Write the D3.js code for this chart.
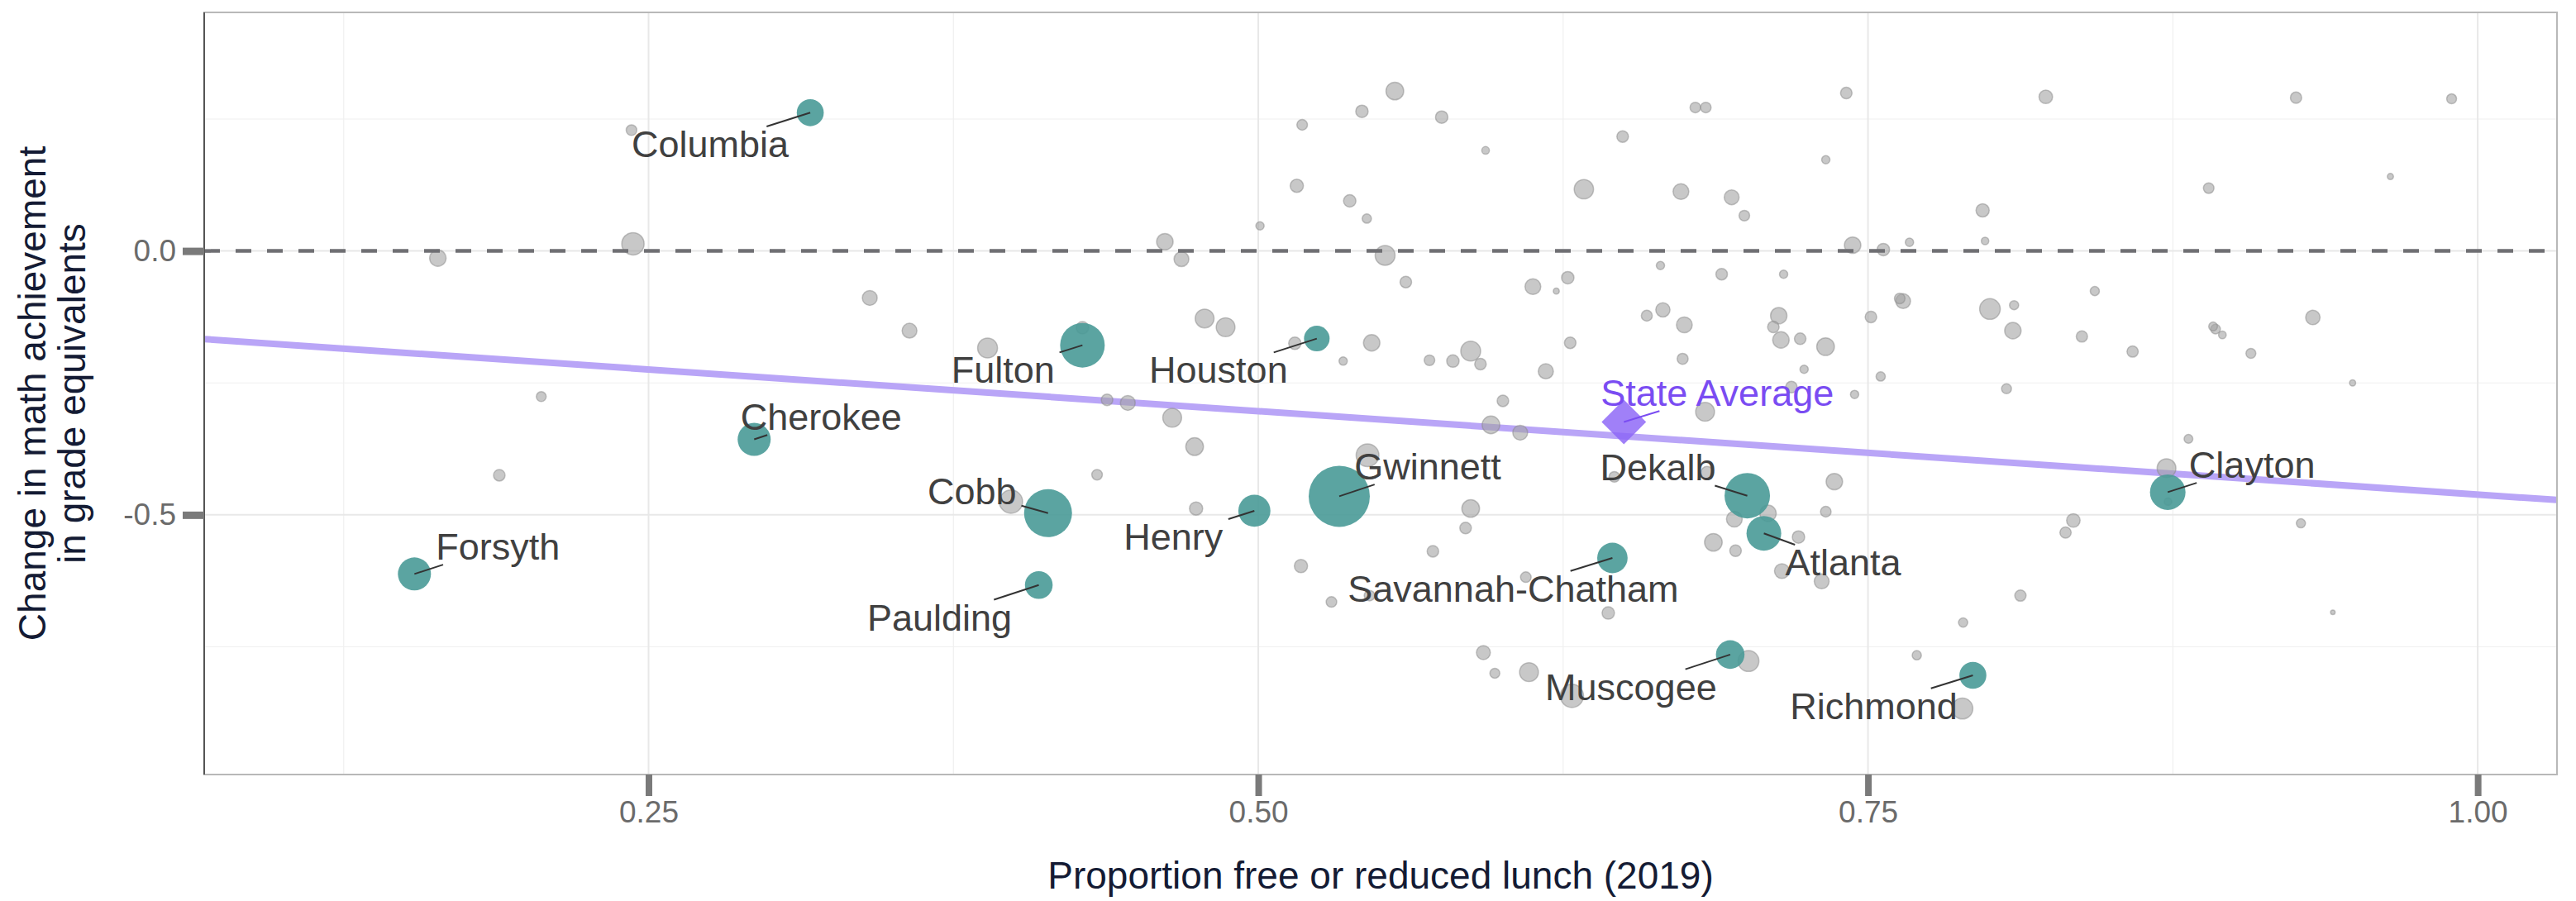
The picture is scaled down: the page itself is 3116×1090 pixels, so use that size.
<!DOCTYPE html>
<html lang="en">
<head>
<meta charset="utf-8">
<title>Change in math achievement vs free or reduced lunch</title>
<script src="https://d3js.org/d3.v7.min.js"></script>
<style>
  body { margin: 0; background: #fff; }
  text { font-family: "Liberation Sans", Arial, Helvetica, sans-serif; }
</style>
</head>
<body>
<div id="vis"></div>
<script>
// highlighted districts
const districtNames = ["Columbia", "Forsyth", "Fulton", "Houston", "Cherokee", "Cobb", "Henry", "Paulding",
  "Gwinnett", "Savannah-Chatham", "Dekalb", "Atlanta", "Muscogee", "Richmond", "Clayton"];
const districtLunch = [0.3163, 0.154, 0.4279, 0.524, 0.2933, 0.4138, 0.4984, 0.410,
  0.5332, 0.6452, 0.7005, 0.7073, 0.6935, 0.793, 0.8729];
const districtChange = [0.262, -0.612, -0.1786, -0.166, -0.357, -0.4967, -0.4923, -0.633,
  -0.4648, -0.5817, -0.4637, -0.535, -0.7647, -0.804, -0.457];
// enrollment, thousands of students
const districtEnroll = [35, 52.6, 95.8, 31.6, 52.6, 110.6, 49.5, 37, 180, 44.5, 99.4, 58, 39.4, 35, 60.8];

// every other district: [free/reduced lunch share, change, enrollment (thousands)]
const otherDistricts = [
  [0.243, 0.229, 5.4], [0.2436, 0.0136, 24], [0.1636, -0.0136, 13], [0.206, -0.276, 4.7], [0.1888, -0.425, 6.4],
  [0.518, 0.239, 5.4], [0.5158, 0.1235, 8.4], [0.5007, 0.0476, 3.3], [0.4617, 0.0175, 13], [0.4685, -0.0155, 10.6],
  [0.3407, -0.089, 10.6], [0.357, -0.151, 10.6], [0.389, -0.184, 19], [0.4279, -0.1456, 7.4], [0.478, -0.128, 17],
  [0.4866, -0.1445, 17], [0.515, -0.175, 7.4], [0.438, -0.282, 6.4], [0.4465, -0.288, 10.6], [0.4647, -0.316, 17],
  [0.4739, -0.3707, 15], [0.4339, -0.424, 5.4], [0.3986, -0.475, 26], [0.4745, -0.488, 8.4], [0.5175, -0.597, 8.4],
  [0.5448, -0.387, 25], [0.5871, -0.488, 15], [0.585, -0.525, 6.4], [0.5716, -0.569, 6.4], [0.6097, -0.618, 5.4],
  [0.530, -0.665, 5.4], [0.5456, -0.653, 5.4], [0.6435, -0.686, 7.4], [0.646, -0.428, 5.4], [0.684, -0.42, 7.4],
  [0.709, -0.497, 13], [0.6952, -0.508, 12], [0.6866, -0.552, 15], [0.6957, -0.568, 6.4], [0.7215, -0.542, 7.4],
  [0.7327, -0.494, 5.4], [0.7362, -0.437, 13], [0.7147, -0.6065, 10.6], [0.731, -0.626, 10.6], [0.5923, -0.761, 9.3],
  [0.597, -0.800, 4.7], [0.611, -0.798, 17], [0.6286, -0.843, 26], [0.701, -0.777, 21], [0.770, -0.766, 4.1],
  [0.789, -0.704, 4.1], [0.7887, -0.867, 21], [0.8724, -0.4116, 17], [0.873, -0.475, 2.7], [0.8342, -0.5106, 8.8],
  [0.831, -0.5335, 6.1], [0.8125, -0.653, 6.1], [0.9275, -0.516, 4], [0.9406, -0.6846, 1.0], [0.556, 0.303, 15],
  [0.5425, 0.2646, 7.4], [0.5752, 0.2536, 7.4], [0.6494, 0.2168, 6.4], [0.5932, 0.1905, 2.8], [0.6792, 0.2718, 5.4],
  [0.6835, 0.2718, 5.4], [0.7411, 0.2992, 6.4], [0.7327, 0.1728, 3.3], [0.6335, 0.117, 18], [0.6733, 0.1126, 12],
  [0.6941, 0.1016, 10.6], [0.6993, 0.067, 5.4], [0.5375, 0.0949, 7.4], [0.5445, 0.0614, 4.1], [0.552, -0.0083, 19],
  [0.7437, 0.011, 13], [0.7563, 0.0027, 7.4], [0.767, 0.0164, 3.3], [0.797, 0.0769, 8.4], [0.798, 0.019, 2.7],
  [0.5605, -0.0589, 6.4], [0.6649, -0.0276, 3.3], [0.69, -0.044, 6.4], [0.7154, -0.044, 3.3], [0.6126, -0.0676, 12],
  [0.6269, -0.0506, 7.4], [0.6222, -0.076, 1.7], [0.7644, -0.095, 10.6], [0.763, -0.09, 5.4], [0.7512, -0.125, 6.4],
  [0.800, -0.110, 20.5], [0.6593, -0.1226, 5.8], [0.6659, -0.1115, 9.8], [0.6747, -0.140, 12], [0.7134, -0.1226, 13],
  [0.7112, -0.144, 6.4], [0.7143, -0.1686, 13], [0.7222, -0.1664, 6.4], [0.7326, -0.1813, 15], [0.5465, -0.174, 13],
  [0.5348, -0.2087, 3.3], [0.5702, -0.2071, 5.4], [0.5798, -0.2087, 7.4], [0.5871, -0.1896, 19], [0.5911, -0.2143, 6.4],
  [0.6279, -0.174, 6.4], [0.674, -0.2043, 5.8], [0.6179, -0.228, 11], [0.7238, -0.2242, 3.3], [0.7552, -0.2378, 4.1],
  [0.7445, -0.2718, 3.3], [0.7186, -0.258, 6.4], [0.6832, -0.3047, 17], [0.6003, -0.284, 6.4], [0.5954, -0.3295, 15],
  [0.6074, -0.3443, 10.6], [0.8229, 0.292, 8.8], [0.9255, 0.2904, 6.1], [0.9893, 0.2882, 4.7], [0.8897, 0.119, 5.4],
  [0.9642, 0.141, 1.8], [0.843, -0.076, 4], [0.8099, -0.1027, 4], [0.8094, -0.151, 13], [0.8377, -0.162, 6.1],
  [0.8585, -0.1906, 6.1], [0.8925, -0.148, 4.5], [0.8915, -0.143, 3.7], [0.8953, -0.159, 2.8], [0.907, -0.194, 4.7],
  [0.9324, -0.126, 10], [0.9487, -0.25, 1.8], [0.8068, -0.261, 4.7], [0.8814, -0.356, 3.7]
];

const stateAverage = { name: "State Average", lunch: 0.6499, change: -0.324 };
const fitLine = { intercept: -0.1455, slope: -0.316 };

const xTicks = [0.25, 0.50, 0.75, 1.00];
const yTicks = [0.0, -0.5];
const xMinor = [0.125, 0.375, 0.625, 0.875];
const yMinor = [0.25, -0.25, -0.75];

const width = 3116, height = 1090;
const margin = { top: 15, right: 23, bottom: 153, left: 247 };
const innerW = width - margin.left - margin.right;
const innerH = height - margin.top - margin.bottom;

const svg = d3.select("#vis").append("svg")
  .attr("width", width)
  .attr("height", height);

const chart = svg.append("g")
  .attr("transform", `translate(${margin.left}, ${margin.top})`);

const x = d3.scaleLinear().domain([0.0678, 1.0325]).range([0, innerW]);
const y = d3.scaleLinear().domain([-0.992, 0.452]).range([innerH, 0]);
const r = d3.scaleSqrt().domain([0, 180]).range([0, 37]);

chart.append("clipPath").attr("id", "panel")
  .append("rect").attr("width", innerW).attr("height", innerH);

// grid
const grid = chart.append("g");
grid.selectAll(".vminor").data(xMinor).enter().append("line")
  .attr("x1", d => x(d)).attr("x2", d => x(d)).attr("y1", 0).attr("y2", innerH)
  .attr("stroke", "#f0f0f0").attr("stroke-width", 1.2);
grid.selectAll(".hminor").data(yMinor).enter().append("line")
  .attr("x1", 0).attr("x2", innerW).attr("y1", d => y(d)).attr("y2", d => y(d))
  .attr("stroke", "#f0f0f0").attr("stroke-width", 1.2);
grid.selectAll(".vmajor").data(xTicks).enter().append("line")
  .attr("x1", d => x(d)).attr("x2", d => x(d)).attr("y1", 0).attr("y2", innerH)
  .attr("stroke", "#e8e8e8").attr("stroke-width", 2);
grid.selectAll(".hmajor").data(yTicks).enter().append("line")
  .attr("x1", 0).attr("x2", innerW).attr("y1", d => y(d)).attr("y2", d => y(d))
  .attr("stroke", "#e8e8e8").attr("stroke-width", 2);

// regression line
const plot = chart.append("g").attr("clip-path", "url(#panel)");
const xd = x.domain();
plot.append("line")
  .attr("x1", x(xd[0])).attr("y1", y(fitLine.intercept + fitLine.slope * xd[0]))
  .attr("x2", x(xd[1])).attr("y2", y(fitLine.intercept + fitLine.slope * xd[1]))
  .attr("stroke", "#b9a5f7").attr("stroke-width", 8);

// other districts
plot.selectAll(".other").data(otherDistricts).enter().append("circle")
  .attr("cx", d => x(d[0])).attr("cy", d => y(d[1])).attr("r", d => r(d[2]))
  .attr("fill", "#a3a3a3").attr("fill-opacity", 0.6)
  .attr("stroke", "#8a8a8a").attr("stroke-opacity", 0.5).attr("stroke-width", 1.5);

// zero line
plot.append("line")
  .attr("x1", 0).attr("x2", innerW).attr("y1", y(0)).attr("y2", y(0))
  .attr("stroke", "#6f6f73").attr("stroke-width", 4.5).attr("stroke-dasharray", "19,19");

// highlighted districts
const districts = districtNames.map((name, i) => ({
  name: name, lunch: districtLunch[i], change: districtChange[i], enroll: districtEnroll[i]
}));
plot.selectAll(".district").data(districts).enter().append("circle")
  .attr("cx", d => x(d.lunch)).attr("cy", d => y(d.change)).attr("r", d => r(d.enroll))
  .attr("fill", "#499a97").attr("fill-opacity", 0.9);

// state average diamond
plot.append("path")
  .attr("d", d3.symbol(d3.symbolSquare, 1450)())
  .attr("transform", `translate(${x(stateAverage.lunch)}, ${y(stateAverage.change)}) rotate(45)`)
  .attr("fill", "#8b64f7").attr("fill-opacity", 0.82);

// panel border
chart.append("rect").attr("width", innerW).attr("height", innerH)
  .attr("fill", "none").attr("stroke", "#b8b8b8").attr("stroke-width", 2);
chart.append("line").attr("x1", 0).attr("x2", 0).attr("y1", 0).attr("y2", innerH)
  .attr("stroke", "#555").attr("stroke-width", 2);

// labels, placed next to their point (pixel offsets)
const labelOffset = {
  "Columbia": [-121, 38], "Forsyth": [101, -33], "Fulton": [-96, 30], "Houston": [-119, 38],
  "Cherokee": [81, -27], "Cobb": [-92, -26], "Henry": [-98, 31], "Paulding": [-120, 39],
  "Gwinnett": [107, -36], "Savannah-Chatham": [-120, 37], "Dekalb": [-108, -34], "Atlanta": [96, 35],
  "Muscogee": [-120, 39], "Richmond": [-120, 37], "Clayton": [102, -33], "State Average": [113, -35]
};

function edgePoint(bb, px, py, padX, padY) {
  const cx = bb.x + bb.width / 2, cy = bb.y + bb.height / 2;
  const hw = bb.width / 2 + padX, hh = bb.height / 2 + padY;
  const dx = px - cx, dy = py - cy;
  const s = Math.min(hw / Math.max(Math.abs(dx), 1e-6), hh / Math.max(Math.abs(dy), 1e-6));
  if (s >= 1) return null;
  return [cx + dx * s, cy + dy * s];
}

const labelLayer = chart.append("g");
const labelled = districts.map(d => ({ name: d.name, lunch: d.lunch, change: d.change, color: "#404040", line: "#333" }))
  .concat([{ name: stateAverage.name, lunch: stateAverage.lunch, change: stateAverage.change, color: "#7a4cf2", line: "#7a4cf2" }]);

labelled.forEach(d => {
  const px = x(d.lunch), py = y(d.change);
  const off = labelOffset[d.name];
  const t = labelLayer.append("text")
    .attr("x", px + off[0]).attr("y", py + off[1])
    .attr("dy", "0.35em")
    .attr("text-anchor", "middle")
    .attr("fill", d.color)
    .style("font-size", "45px")
    .text(d.name);
  const bb = t.node().getBBox();
  const e = edgePoint(bb, px, py, 6, -4);
  if (e) {
    labelLayer.insert("line", "text")
      .attr("x1", e[0]).attr("y1", e[1]).attr("x2", px).attr("y2", py)
      .attr("stroke", d.line).attr("stroke-width", 2);
  }
});

// axes
const xAxis = chart.append("g")
  .attr("transform", `translate(0, ${innerH})`)
  .call(d3.axisBottom(x).tickValues(xTicks).tickFormat(d => d.toFixed(2)).tickSize(26).tickPadding(6));
xAxis.select(".domain").remove();
xAxis.attr("font-size", 37).attr("font-family", null);
xAxis.selectAll(".tick line").attr("stroke", "#7a7a7a").attr("stroke-width", 8);
xAxis.selectAll(".tick text").attr("fill", "#6b6b6b");

const yAxis = chart.append("g")
  .call(d3.axisLeft(y).tickValues(yTicks).tickFormat(d => d.toFixed(1)).tickSize(26).tickPadding(8));
yAxis.select(".domain").remove();
yAxis.attr("font-size", 37).attr("font-family", null);
yAxis.selectAll(".tick line").attr("stroke", "#7a7a7a").attr("stroke-width", 9);
yAxis.selectAll(".tick text").attr("fill", "#6b6b6b");

// titles
svg.append("text")
  .attr("x", margin.left + innerW / 2).attr("y", 1075)
  .attr("text-anchor", "middle").attr("fill", "#141b34")
  .style("font-size", "46px")
  .text("Proportion free or reduced lunch (2019)");

const midY = margin.top + innerH / 2;
svg.append("text")
  .attr("transform", `translate(55, ${midY}) rotate(-90)`)
  .attr("text-anchor", "middle").attr("fill", "#141b34")
  .style("font-size", "46px")
  .text("Change in math achievement");
svg.append("text")
  .attr("transform", `translate(103, ${midY}) rotate(-90)`)
  .attr("text-anchor", "middle").attr("fill", "#141b34")
  .style("font-size", "46px")
  .text("in grade equivalents");
</script>
</body>
</html>
